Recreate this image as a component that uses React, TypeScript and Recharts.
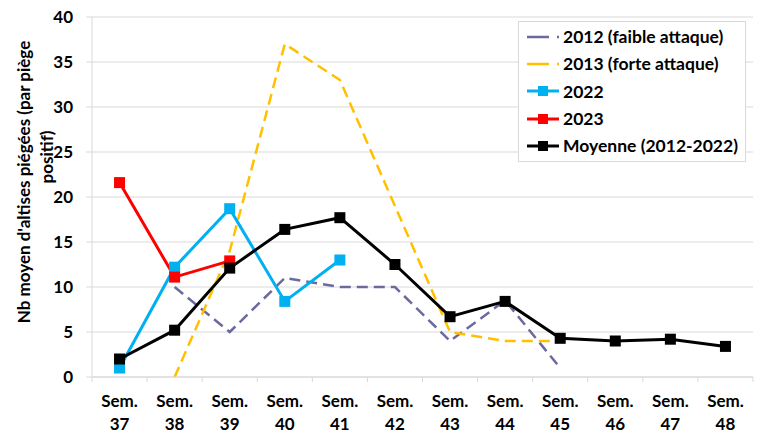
import { CartesianGrid, Legend, Line, LineChart, XAxis, YAxis } from 'recharts';

const weeks = ['37', '38', '39', '40', '41', '42', '43', '44', '45', '46', '47', '48'];
const y2012 = [null, 10, 5, 11, 10, 10, 4, 8.5, 1, null, null, null];
const y2013 = [null, 0, 14, 37, 33, 19, 5, 4, 4, null, null, null];
const y2022 = [1, 12.2, 18.7, 8.4, 13, null, null, null, null, null, null, null];
const y2023 = [21.6, 11.1, 12.9, null, null, null, null, null, null, null, null, null];
const moyenne = [2, 5.2, 12.1, 16.4, 17.7, 12.5, 6.7, 8.4, 4.3, 4, 4.2, 3.4];
const yTicks = [0, 5, 10, 15, 20, 25, 30, 35, 40];

const data = weeks.map((w, i) => ({
  week: w,
  y2012: y2012[i],
  y2013: y2013[i],
  y2022: y2022[i],
  y2023: y2023[i],
  moyenne: moyenne[i],
}));

const FONT = 'Lato, "Open Sans", sans-serif';
const W = 762;
const H = 434;
const LEFT = 92;
const RIGHT = 9;
const band = (W - LEFT - RIGHT) / weeks.length;

const series = [
  { key: 'y2012', name: '2012 (faible attaque)', color: '#6A6A9E', dash: '11 6', marker: false, width: 2.5 },
  { key: 'y2013', name: '2013 (forte attaque)', color: '#FFC000', dash: '11 6', marker: false, width: 2.5 },
  { key: 'y2022', name: '2022', color: '#00B0F0', dash: undefined, marker: true, width: 3 },
  { key: 'y2023', name: '2023', color: '#FF0000', dash: undefined, marker: true, width: 3 },
  { key: 'moyenne', name: 'Moyenne (2012-2022)', color: '#000000', dash: undefined, marker: true, width: 3 },
];

const Square = (color: string) => (props: any) => {
  const { cx, cy, index } = props;
  if (cx == null || cy == null || props.value == null) return <g key={index} />;
  return <rect key={index} x={cx - 5.5} y={cy - 5.5} width={11} height={11} fill={color} />;
};

const XTick = (props: any) => {
  const { x, y, payload, index } = props;
  return (
    <g>
      <line x1={x - band / 2} y1={y - 8} x2={x - band / 2} y2={y - 3} stroke="#D9D9D9" />
      {index === weeks.length - 1 && (
        <line x1={x + band / 2} y1={y - 8} x2={x + band / 2} y2={y - 3} stroke="#D9D9D9" />
      )}
      <text x={x} y={y + 22} textAnchor="middle" fontFamily={FONT} fontWeight={700} fontSize={17} fill="#000">
        Sem.
      </text>
      <text x={x} y={y + 45} textAnchor="middle" fontFamily={FONT} fontWeight={700} fontSize={17} fill="#000">
        {payload.value}
      </text>
    </g>
  );
};

const YTitle = () => (
  <g fontFamily={FONT} fontWeight={700} fontSize={17} fill="#000">
    <text x={23} y={182} transform="rotate(-90 23 182)" textAnchor="middle" dominantBaseline="central">
      Nb moyen d'altises piégées (par piège
    </text>
    <text x={46} y={157} transform="rotate(-90 46 157)" textAnchor="middle" dominantBaseline="central">
      positif)
    </text>
  </g>
);

const LegendBox = () => (
  <div
    style={{
      border: '1px solid #D9D9D9',
      background: '#fff',
      padding: '1px 0 2px 7px',
      fontFamily: FONT,
      fontWeight: 700,
      fontSize: 17.5,
      width: 228,
      boxSizing: 'border-box',
    }}
  >
    {series.map((s) => (
      <div key={s.key} style={{ display: 'flex', alignItems: 'center', height: 27.3 }}>
        <svg width={36} height={14} style={{ marginRight: 1 }}>
          <line x1={1} y1={7} x2={33} y2={7} stroke={s.color} strokeWidth={s.width} strokeDasharray={s.dash ? '22 8' : undefined} />
          {s.marker && <rect x={12} y={2} width={10} height={10} fill={s.color} />}
        </svg>
        <span>{s.name}</span>
      </div>
    ))}
  </div>
);

export default function App() {
  return (
    <div style={{ position: 'absolute', left: 0, top: 0, background: '#fff' }}>
      <LineChart width={W} height={H} data={data} margin={{ top: 17, right: RIGHT, bottom: 0, left: 0 }}>
        <CartesianGrid vertical={false} stroke="#D9D9D9" />
        <XAxis
          dataKey="week"
          height={57}
          stroke="#D9D9D9"
          tickLine={false}
          tick={<XTick />}
          interval={0}
          padding={{ left: band / 2, right: band / 2 }}
        />
        <YAxis
          width={LEFT}
          domain={[0, 40]}
          ticks={yTicks}
          interval={0}
          stroke="#D9D9D9"
          tickSize={6}
          tickMargin={13}
          tick={{ fontFamily: FONT, fontWeight: 700, fontSize: 17, fill: '#000' }}
          label={<YTitle />}
        />
        <Legend
          layout="horizontal"
          verticalAlign="middle"
          align="center"
          wrapperStyle={{ left: 518, top: 21, width: 228 }}
          content={<LegendBox />}
        />
        {series.map((s) => (
          <Line
            key={s.key}
            type="linear"
            dataKey={s.key}
            name={s.name}
            stroke={s.color}
            strokeWidth={s.width}
            strokeDasharray={s.dash}
            dot={s.marker ? Square(s.color) : false}
            activeDot={false}
            connectNulls={false}
            isAnimationActive={false}
          />
        ))}
      </LineChart>
    </div>
  );
}
